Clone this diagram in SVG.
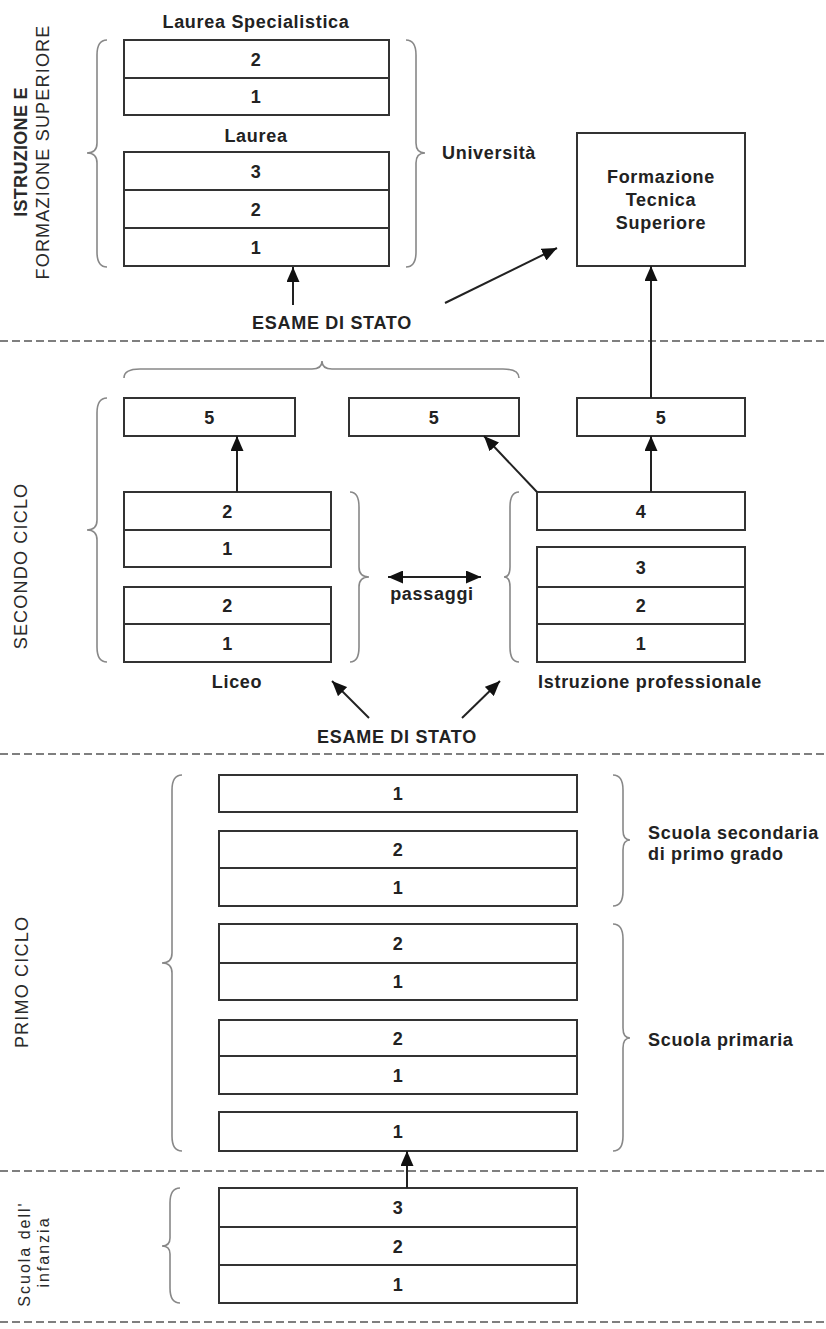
<svg xmlns="http://www.w3.org/2000/svg" width="826" height="1329" viewBox="0 0 826 1329">
<style>
.box{fill:#fff;stroke:#333;stroke-width:2}
.t{font-family:"Liberation Sans",Arial,sans-serif;font-size:18px;font-weight:bold;fill:#222;letter-spacing:0.7px}
.c{text-anchor:middle}
.v{font-family:"Liberation Sans",Arial,sans-serif;font-size:18px;fill:#2a2a2a;letter-spacing:1.2px;text-anchor:middle}
.vb{font-weight:bold;letter-spacing:0.3px}
.vs{font-family:"Liberation Sans",Arial,sans-serif;font-size:16px;fill:#2a2a2a;letter-spacing:2px;text-anchor:middle}
.br{fill:none;stroke:#888;stroke-width:1.6}
.dash{stroke:#555;stroke-width:1.5;stroke-dasharray:8 4}
.arr{stroke:#222;stroke-width:2;fill:none;marker-end:url(#ah)}
</style>
<defs>
<marker id="ah" markerUnits="userSpaceOnUse" markerWidth="15" markerHeight="13" viewBox="0 0 15 13" refX="15" refY="6.5" orient="auto-start-reverse">
<path d="M0,0 L15,6.5 L0,13 z" fill="#111"/>
</marker>
</defs>
<rect width="826" height="1329" fill="#fff"/>

<g id="separators">
<line class="dash" x1="0" y1="341" x2="826" y2="341"/>
<line class="dash" x1="0" y1="754" x2="826" y2="754"/>
<line class="dash" x1="0" y1="1171" x2="826" y2="1171"/>
<line class="dash" x1="0" y1="1322" x2="826" y2="1322"/>
</g>

<g id="section-labels">
<text class="v vb" transform="translate(27,152) rotate(-90)">ISTRUZIONE E</text>
<text class="v" transform="translate(49,152) rotate(-90)">FORMAZIONE SUPERIORE</text>
<text class="v" transform="translate(27,566) rotate(-90)">SECONDO CICLO</text>
<text class="v" transform="translate(28,982) rotate(-90)">PRIMO CICLO</text>
<text class="vs" transform="translate(30,1254) rotate(-90)">Scuola dell'</text>
<text class="vs" transform="translate(49,1252) rotate(-90)">infanzia</text>
</g>

<g id="braces">
<path class="br" d="M107,40 Q97,40 97,55 L97,143 Q97,153 87,153 Q97,153 97,163 L97,252 Q97,267 107,267"/>
<path class="br" d="M406,40 Q416,40 416,55 L416,143 Q416,153 425,153 Q416,153 416,163 L416,252 Q416,267 406,267"/>
<path class="br" d="M124,378 Q124,369 140,369 L312,369 Q322,369 322,361 Q322,369 332,369 L503,369 Q519,369 519,378"/>
<path class="br" d="M107,398 Q97,398 97,413 L97,520 Q97,530 87,530 Q97,530 97,540 L97,647 Q97,662 107,662"/>
<path class="br" d="M350,492 Q359,492 359,507 L359,567 Q359,577 369,577 Q359,577 359,587 L359,647 Q359,662 350,662"/>
<path class="br" d="M519,492 Q510,492 510,507 L510,567 Q510,577 504,577 Q510,577 510,587 L510,647 Q510,662 519,662"/>
<path class="br" d="M182,775 Q172,775 172,790 L172,953 Q172,963 162,963 Q172,963 172,973 L172,1136 Q172,1151 182,1151"/>
<path class="br" d="M613,775 Q623,775 623,790 L623,830 Q623,840 630,840 Q623,840 623,850 L623,891 Q623,906 613,906"/>
<path class="br" d="M613,924 Q623,924 623,939 L623,1028 Q623,1038 630,1038 Q623,1038 623,1048 L623,1136 Q623,1151 613,1151"/>
<path class="br" d="M180,1188 Q170,1188 170,1203 L170,1238 Q170,1246 162,1246 Q170,1246 170,1254 L170,1288 Q170,1303 180,1303"/>
</g>

<g id="labels">
<text class="t c" x="256" y="28">Laurea Specialistica</text>
<text class="t c" x="256" y="142">Laurea</text>
<text class="t" x="442" y="159">Università</text>
<text class="t c" x="332" y="329">ESAME DI STATO</text>
<text class="t c" x="237" y="688">Liceo</text>
<text class="t c" x="650" y="688">Istruzione professionale</text>
<text class="t c" x="432" y="600">passaggi</text>
<text class="t c" x="397" y="743">ESAME DI STATO</text>
<text class="t" x="648" y="839">Scuola secondaria</text>
<text class="t" x="648" y="860">di primo grado</text>
<text class="t" x="648" y="1046">Scuola primaria</text>
</g>

<g id="laurea-specialistica">
<rect class="box" x="124" y="40" width="265" height="38"/>
<rect class="box" x="124" y="78" width="265" height="37"/>
<text class="t c" x="256" y="65.5">2</text>
<text class="t c" x="256" y="103">1</text>
</g>

<g id="laurea">
<rect class="box" x="124" y="152" width="265" height="38"/>
<rect class="box" x="124" y="190" width="265" height="38"/>
<rect class="box" x="124" y="228" width="265" height="38"/>
<text class="t c" x="256" y="177.5">3</text>
<text class="t c" x="256" y="215.5">2</text>
<text class="t c" x="256" y="253.5">1</text>
</g>

<g id="fts">
<rect class="box" x="577" y="133" width="168" height="133"/>
<text class="t c" x="661" y="183">Formazione</text>
<text class="t c" x="661" y="206">Tecnica</text>
<text class="t c" x="661" y="229">Superiore</text>
</g>

<g id="quinto-liceo">
<rect class="box" x="124" y="398" width="171" height="38"/>
<text class="t c" x="209.5" y="423.5">5</text>
</g>
<g id="quinto-centro">
<rect class="box" x="349" y="398" width="170" height="38"/>
<text class="t c" x="434" y="423.5">5</text>
</g>
<g id="quinto-professionale">
<rect class="box" x="577" y="398" width="168" height="38"/>
<text class="t c" x="661" y="423.5">5</text>
</g>

<g id="liceo">
<rect class="box" x="124" y="492" width="207" height="38"/>
<rect class="box" x="124" y="530" width="207" height="37"/>
<rect class="box" x="124" y="587" width="207" height="37"/>
<rect class="box" x="124" y="624" width="207" height="38"/>
<text class="t c" x="227.5" y="517.5">2</text>
<text class="t c" x="227.5" y="555">1</text>
<text class="t c" x="227.5" y="612">2</text>
<text class="t c" x="227.5" y="649.5">1</text>
</g>

<g id="istruzione-professionale">
<rect class="box" x="537" y="492" width="208" height="38"/>
<rect class="box" x="537" y="547" width="208" height="40"/>
<rect class="box" x="537" y="587" width="208" height="37"/>
<rect class="box" x="537" y="624" width="208" height="38"/>
<text class="t c" x="641" y="517.5">4</text>
<text class="t c" x="641" y="573.5">3</text>
<text class="t c" x="641" y="612">2</text>
<text class="t c" x="641" y="649.5">1</text>
</g>

<g id="secondaria-primo-grado">
<rect class="box" x="219" y="775" width="358" height="37"/>
<rect class="box" x="219" y="831" width="358" height="37"/>
<rect class="box" x="219" y="868" width="358" height="38"/>
<text class="t c" x="398" y="800">1</text>
<text class="t c" x="398" y="856">2</text>
<text class="t c" x="398" y="893.5">1</text>
</g>

<g id="primaria">
<rect class="box" x="219" y="924" width="358" height="39"/>
<rect class="box" x="219" y="963" width="358" height="37"/>
<rect class="box" x="219" y="1020" width="358" height="36"/>
<rect class="box" x="219" y="1056" width="358" height="38"/>
<rect class="box" x="219" y="1112" width="358" height="39"/>
<text class="t c" x="398" y="950">2</text>
<text class="t c" x="398" y="988">1</text>
<text class="t c" x="398" y="1044.5">2</text>
<text class="t c" x="398" y="1081.5">1</text>
<text class="t c" x="398" y="1138">1</text>
</g>

<g id="infanzia">
<rect class="box" x="219" y="1188" width="358" height="39"/>
<rect class="box" x="219" y="1227" width="358" height="38"/>
<rect class="box" x="219" y="1265" width="358" height="38"/>
<text class="t c" x="398" y="1214">3</text>
<text class="t c" x="398" y="1252.5">2</text>
<text class="t c" x="398" y="1290.5">1</text>
</g>

<g id="connectors">
<line class="arr" x1="293" y1="305" x2="293" y2="267"/>
<line class="arr" x1="445" y1="303" x2="557" y2="248"/>
<line class="arr" x1="651" y1="398" x2="651" y2="266"/>
<line class="arr" x1="237" y1="492" x2="237" y2="436"/>
<line class="arr" x1="651" y1="492" x2="651" y2="436"/>
<line class="arr" x1="537" y1="492" x2="484" y2="436"/>
<line class="arr" x1="388" y1="577" x2="481" y2="577" marker-start="url(#ah)"/>
<line class="arr" x1="369" y1="718" x2="332" y2="681"/>
<line class="arr" x1="462" y1="718" x2="500" y2="681"/>
<line class="arr" x1="407" y1="1188" x2="407" y2="1151"/>
</g>
</svg>
